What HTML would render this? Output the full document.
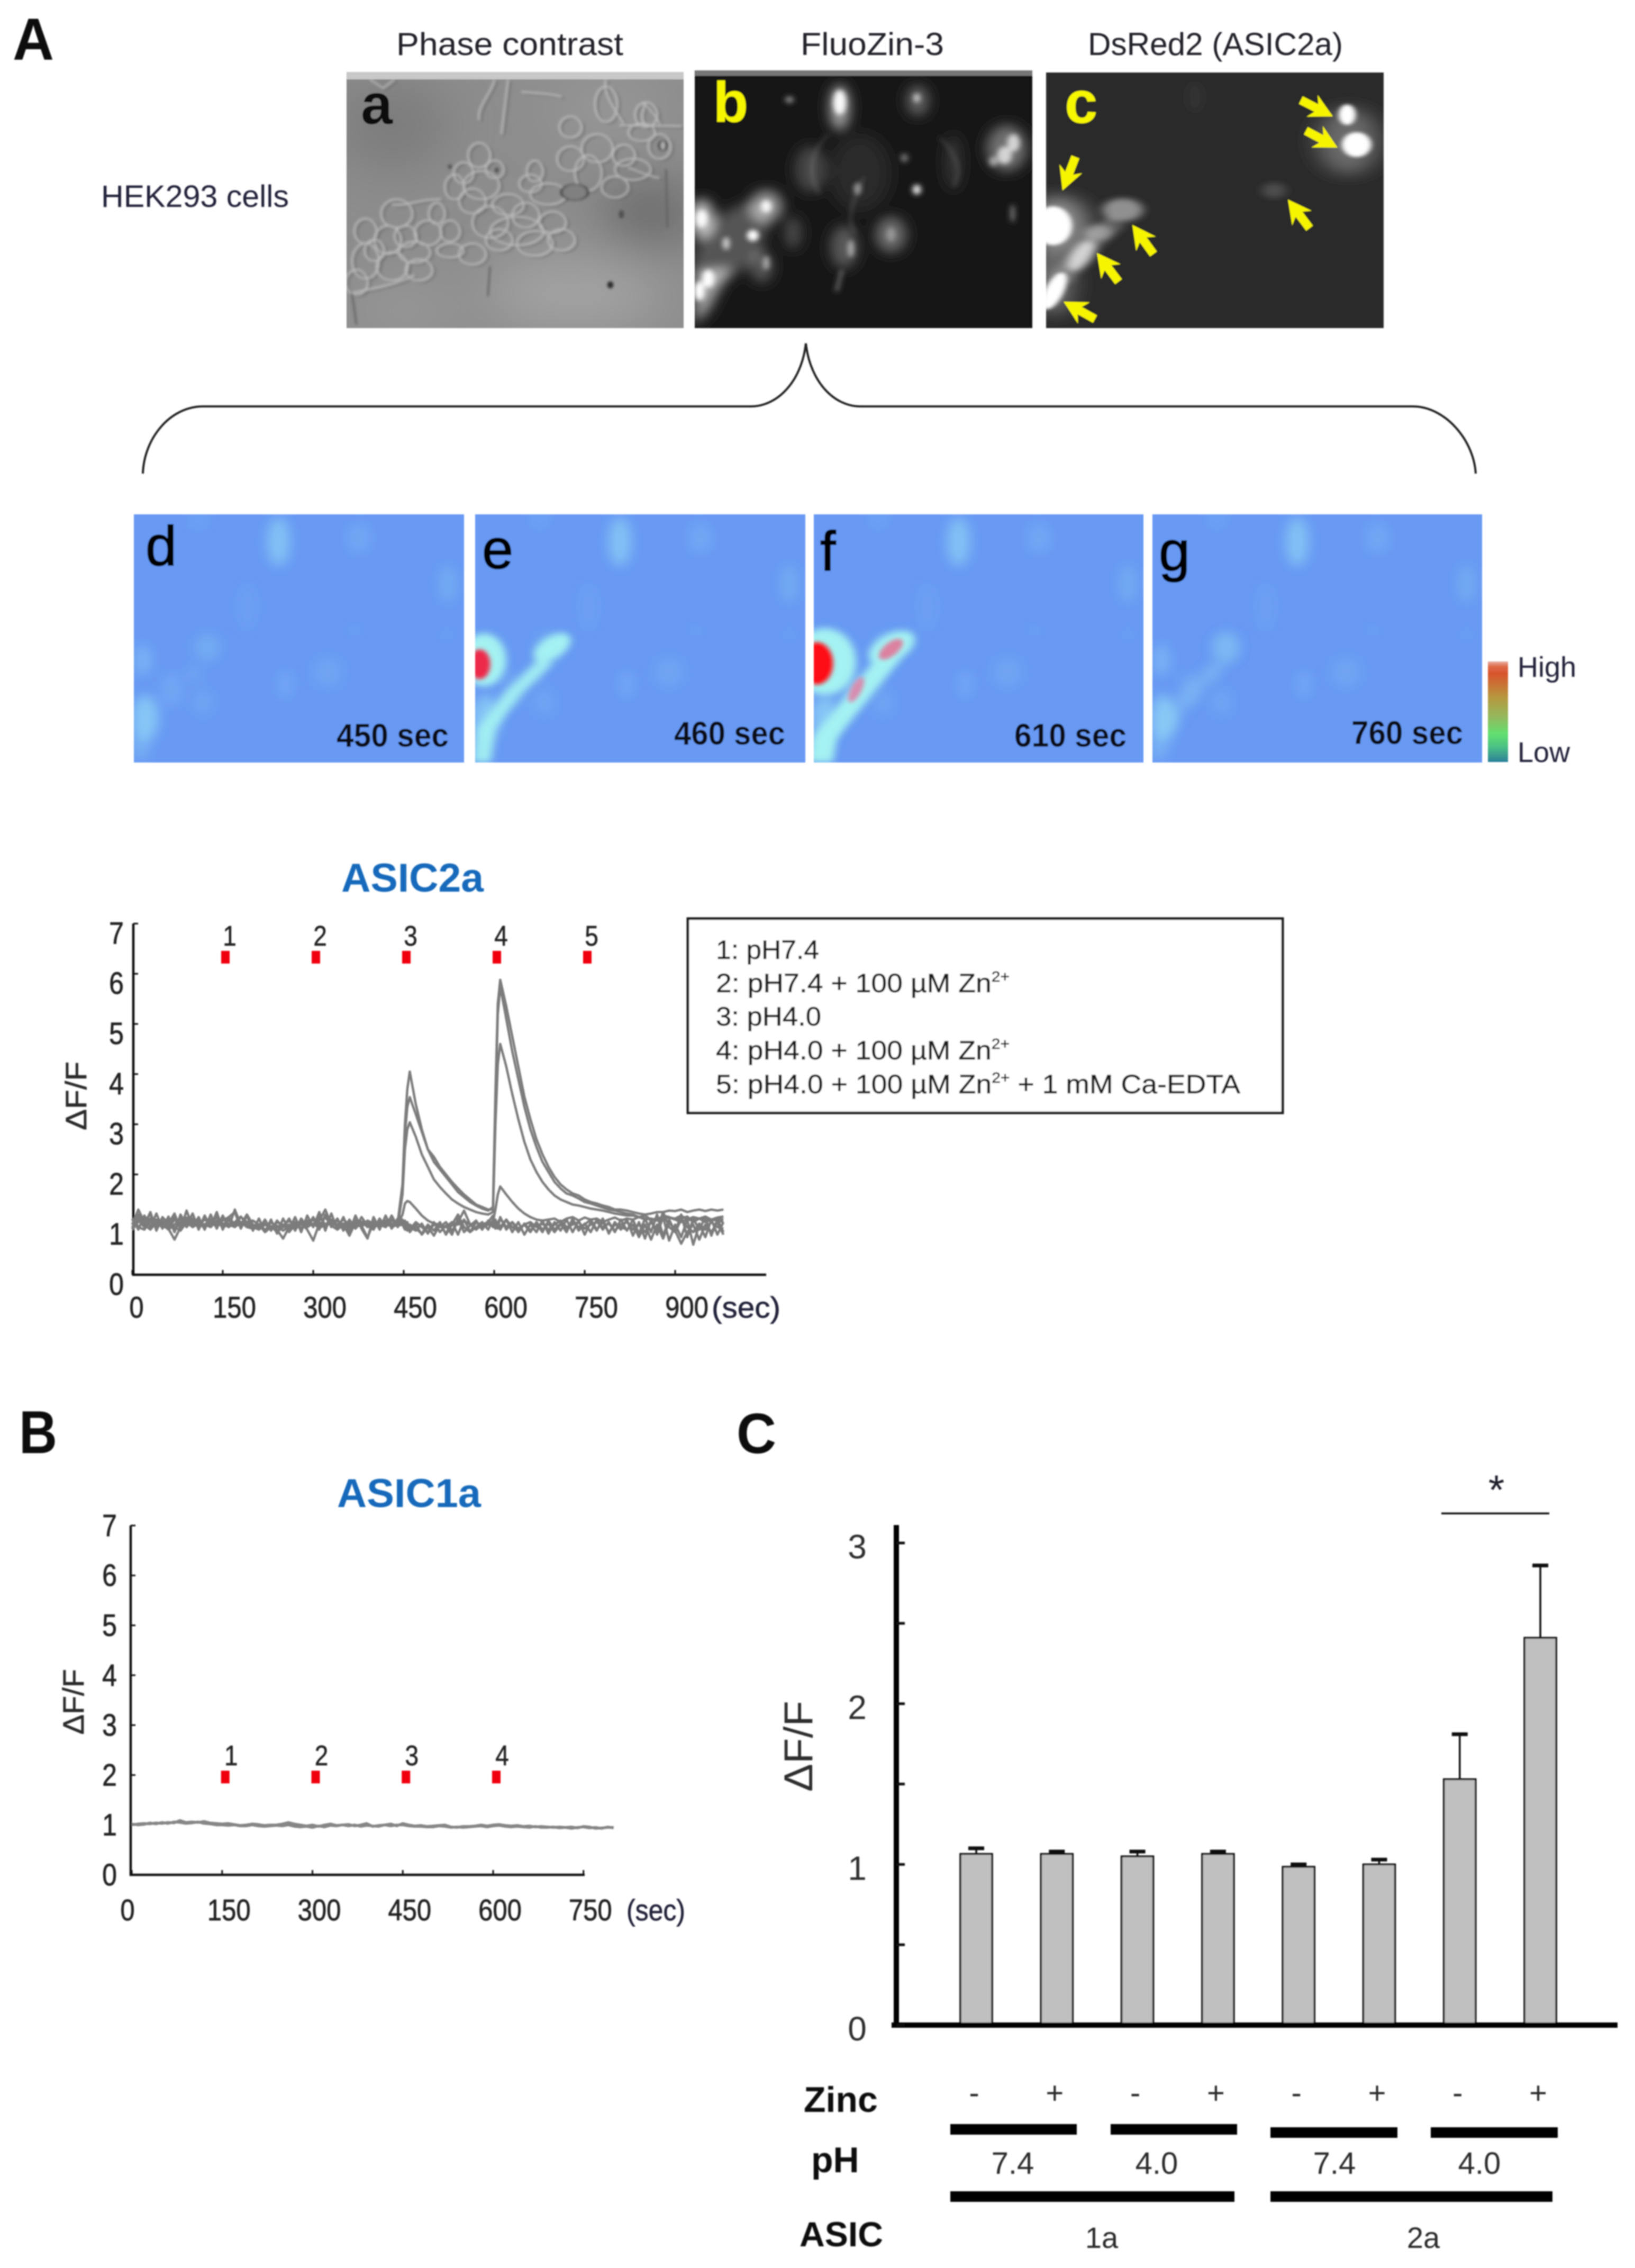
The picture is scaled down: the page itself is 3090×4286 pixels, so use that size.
<!DOCTYPE html>
<html lang="en">
<head>
<meta charset="utf-8">
<title>ASIC zinc imaging figure</title>
<style>
html,body{margin:0;padding:0;background:#fff;}
svg{display:block;}
text{font-family:"Liberation Sans",sans-serif;}
#cell-outlines *{vector-effect:non-scaling-stroke;}
</style>
</head>
<body>
<svg xmlns="http://www.w3.org/2000/svg" width="3090" height="4286" viewBox="0 0 3090 4286">
<defs>
  <clipPath id="clip-a"><rect x="655" y="136" width="637" height="484"/></clipPath>
  <clipPath id="clip-b"><rect x="1313" y="133" width="638" height="487"/></clipPath>
  <clipPath id="clip-c"><rect x="1977" y="137" width="638" height="483"/></clipPath>
  <clipPath id="clip-d"><rect x="253" y="972" width="624" height="469"/></clipPath>
  <clipPath id="clip-e"><rect x="898" y="972" width="624" height="469"/></clipPath>
  <clipPath id="clip-f"><rect x="1538" y="972" width="623" height="469"/></clipPath>
  <clipPath id="clip-g"><rect x="2178" y="972" width="623" height="469"/></clipPath>
  <filter id="soft" filterUnits="userSpaceOnUse" x="0" y="0" width="3090" height="4286"><feGaussianBlur stdDeviation="1.3"/></filter>
  <filter id="blur-a" filterUnits="userSpaceOnUse" x="-200" y="-200" width="1400" height="2200"><feGaussianBlur stdDeviation="3 7"/></filter>
  <filter id="blur-a-big" filterUnits="userSpaceOnUse" x="-400" y="-400" width="1800" height="2600"><feGaussianBlur stdDeviation="60 150"/></filter>
  <filter id="blur-b" filterUnits="userSpaceOnUse" x="-200" y="-200" width="2400" height="2200"><feGaussianBlur stdDeviation="14 32"/></filter>
  <filter id="blur-b-fine" filterUnits="userSpaceOnUse" x="-200" y="-200" width="2400" height="2200"><feGaussianBlur stdDeviation="6 13"/></filter>
  <filter id="blur-c" filterUnits="userSpaceOnUse" x="-200" y="-200" width="2000" height="2200"><feGaussianBlur stdDeviation="20 15"/></filter>
  <filter id="blur-c-fine" filterUnits="userSpaceOnUse" x="-200" y="-200" width="2000" height="2200"><feGaussianBlur stdDeviation="11 8"/></filter>
  <filter id="blur-c-big" filterUnits="userSpaceOnUse" x="-200" y="-200" width="2000" height="2200"><feGaussianBlur stdDeviation="50 40"/></filter>
  <filter id="blur-blue" filterUnits="userSpaceOnUse" x="-200" y="-200" width="1200" height="2000"><feGaussianBlur stdDeviation="14 32"/></filter>
  <filter id="blur-cyan" filterUnits="userSpaceOnUse" x="-200" y="-200" width="1200" height="2000"><feGaussianBlur stdDeviation="9 20"/></filter>
  <filter id="blur-red" filterUnits="userSpaceOnUse" x="-200" y="-200" width="1200" height="2000"><feGaussianBlur stdDeviation="5 11"/></filter>
  <linearGradient id="colorbar-gradient" x1="0" y1="0" x2="0" y2="1">
    <stop offset="0" stop-color="#e6b0a4"/><stop offset="0.05" stop-color="#e06a48"/><stop offset="0.12" stop-color="#d8532c"/>
    <stop offset="0.35" stop-color="#b8963e"/><stop offset="0.55" stop-color="#94b85c"/><stop offset="0.72" stop-color="#62e070"/>
    <stop offset="0.85" stop-color="#4ac084"/><stop offset="1" stop-color="#2a8098"/>
  </linearGradient>
  <g id="cell-outlines" fill="none">
    <ellipse cx="470" cy="740" rx="40" ry="60"/><ellipse cx="380" cy="800" rx="35" ry="60"/><ellipse cx="320" cy="690" rx="40" ry="80"/>
    <ellipse cx="315" cy="520" rx="25" ry="70"/><ellipse cx="350" cy="600" rx="20" ry="50"/><ellipse cx="440" cy="610" rx="18" ry="60"/>
    <ellipse cx="560" cy="620" rx="30" ry="100"/><ellipse cx="520" cy="360" rx="25" ry="60"/><ellipse cx="580" cy="480" rx="35" ry="80"/>
    <ellipse cx="600" cy="230" rx="25" ry="100"/><ellipse cx="690" cy="290" rx="25" ry="70"/>
    <ellipse cx="720" cy="470" rx="25" ry="70"/><ellipse cx="680" cy="390" rx="30" ry="50"/><ellipse cx="660" cy="600" rx="40" ry="60"/>
    <ellipse cx="200" cy="960" rx="30" ry="70"/><ellipse cx="130" cy="850" rx="35" ry="80"/><ellipse cx="220" cy="850" rx="18" ry="60"/>
    <ellipse cx="110" cy="1000" rx="30" ry="80"/><ellipse cx="120" cy="1150" rx="35" ry="80"/><ellipse cx="170" cy="1070" rx="35" ry="60"/>
    <ellipse cx="250" cy="1060" rx="30" ry="40"/><ellipse cx="60" cy="1120" rx="30" ry="100"/><ellipse cx="340" cy="900" rx="40" ry="90"/>
    <ellipse cx="400" cy="950" rx="60" ry="80"/><ellipse cx="440" cy="1020" rx="40" ry="70"/><ellipse cx="300" cy="1080" rx="30" ry="60"/>
    <ellipse cx="360" cy="1000" rx="30" ry="60"/><ellipse cx="40" cy="1240" rx="25" ry="70"/>
    <ellipse cx="80" cy="1060" rx="22" ry="60"/><ellipse cx="150" cy="980" rx="25" ry="60"/><ellipse cx="250" cy="950" rx="22" ry="60"/>
    <ellipse cx="300" cy="780" rx="30" ry="70"/><ellipse cx="420" cy="860" rx="30" ry="70"/><ellipse cx="480" cy="900" rx="30" ry="60"/>
    <ellipse cx="500" cy="1000" rx="30" ry="60"/><ellipse cx="260" cy="700" rx="22" ry="70"/><ellipse cx="280" cy="620" rx="22" ry="60"/>
    <ellipse cx="430" cy="680" rx="25" ry="50"/><ellipse cx="620" cy="700" rx="30" ry="60"/><ellipse cx="520" cy="540" rx="30" ry="70"/>
    <ellipse cx="640" cy="520" rx="25" ry="60"/><ellipse cx="60" cy="950" rx="25" ry="70"/><ellipse cx="180" cy="1170" rx="30" ry="60"/>
    <path d="M120,800 C160,810 170,770 230,770 M30,1300 C90,1270 130,1250 170,1200 M650,590 C680,620 700,640 720,650 M630,350 L770,355 M690,350 C670,300 690,250 685,225 C700,260 720,320 720,345"/>
    <path d="M350,90 C340,180 310,240 315,320 M380,90 C375,200 370,300 365,400 M410,160 C440,170 480,170 500,190 M600,90 C590,160 620,260 640,340 M70,90 L100,140 M125,90 L100,140"/>
  </g>
  <g id="blue-blobs" fill="#96dcf6" opacity="0.85">
    <ellipse cx="340" cy="190" rx="26" ry="140" opacity="0.7"/><ellipse cx="520" cy="170" rx="28" ry="90" opacity="0.25"/>
    <ellipse cx="720" cy="430" rx="20" ry="110" opacity="0.32"/><ellipse cx="35" cy="860" rx="20" ry="90" opacity="0.45"/>
    <ellipse cx="180" cy="790" rx="30" ry="80" opacity="0.32"/><ellipse cx="40" cy="1190" rx="30" ry="130" opacity="0.8"/>
    <ellipse cx="450" cy="930" rx="35" ry="90" opacity="0.2"/><ellipse cx="355" cy="1000" rx="18" ry="80" opacity="0.25"/>
    <ellipse cx="150" cy="940" rx="14" ry="50" opacity="0.28"/><ellipse cx="100" cy="1030" rx="25" ry="100" opacity="0.25"/>
    <ellipse cx="170" cy="1100" rx="25" ry="80" opacity="0.2"/><ellipse cx="270" cy="560" rx="25" ry="140" opacity="0.12"/>
    <ellipse cx="510" cy="690" rx="8" ry="24" opacity="0.3"/><ellipse cx="720" cy="715" rx="6" ry="18" opacity="0.5"/>
    <ellipse cx="160" cy="70" rx="25" ry="50" opacity="0.15"/><ellipse cx="30" cy="1340" rx="22" ry="90" opacity="0.4"/>
  </g>
  <polygon id="cell-arrow" fill="#f7f400" points="0,0 -44,-23 -35,-8 -68,-8 -68,8 -35,8 -44,23"/>
</defs>

<g id="figure-content" filter="url(#soft)">

<text x="24" y="113" font-size="112" font-weight="bold" fill="#0c0c0c" textLength="78" lengthAdjust="spacingAndGlyphs">A</text>
<text x="749" y="104" font-size="60" fill="#20202c" textLength="429" lengthAdjust="spacingAndGlyphs">Phase contrast</text>
<text x="1513" y="104" font-size="60" fill="#20202c" textLength="271" lengthAdjust="spacingAndGlyphs">FluoZin-3</text>
<text x="2056" y="104" font-size="60" fill="#20202c" textLength="482" lengthAdjust="spacingAndGlyphs">DsRed2 (ASIC2a)</text>
<text x="191" y="391" font-size="58" fill="#20203a" textLength="355" lengthAdjust="spacingAndGlyphs">HEK293 cells</text>

<!-- panel a -->
<g clip-path="url(#clip-a)">
  <rect x="655" y="136" width="637" height="484" fill="#8d8d8d"/>
  <g transform="translate(640,120) scale(0.8418,0.3333)">
    <g filter="url(#blur-a-big)">
      <ellipse cx="700" cy="850" rx="110" ry="180" fill="#5e5e5e" opacity="0.8"/>
      <ellipse cx="120" cy="350" rx="130" ry="260" fill="#7c7c7c"/>
      <ellipse cx="530" cy="1300" rx="200" ry="180" fill="#a6a6a6"/>
      <ellipse cx="150" cy="1400" rx="130" ry="100" fill="#9c9c9c"/>
      <ellipse cx="600" cy="250" rx="130" ry="200" fill="#969696"/>
    </g>
    <rect x="18" y="48" width="760" height="42" fill="#c8c8c8"/>
    <g filter="url(#blur-a)">
      <use href="#cell-outlines" stroke="#5c5c5c" stroke-width="2.5" transform="translate(7,10)" opacity="0.6"/>
      <use href="#cell-outlines" stroke="#cfcfcf" stroke-width="3" opacity="0.75"/>
      <ellipse cx="530" cy="730" rx="30" ry="45" fill="#808080" stroke="#4a4a4a" stroke-width="6"/>
      <ellipse cx="728" cy="465" rx="8" ry="28" fill="#b0b0b0" stroke="#333" stroke-width="5"/>
      <ellipse cx="610" cy="1255" rx="7" ry="20" fill="#2a2a2a"/>
      <ellipse cx="250" cy="585" rx="5" ry="14" fill="#555"/><ellipse cx="355" cy="605" rx="5" ry="16" fill="#555"/>
      <ellipse cx="635" cy="855" rx="6" ry="24" fill="#505050"/>
      <path d="M340,1150 L335,1320 M735,600 L738,930 M30,1300 L40,1480" stroke="#606060" stroke-width="4" fill="none"/>
    </g>
  </g>
</g>
<text x="682" y="234" font-size="108" font-weight="bold" fill="#080810">a</text>

<!-- panel b -->
<g clip-path="url(#clip-b)">
  <rect x="1313" y="133" width="638" height="487" fill="#191919"/>
  <g transform="translate(640,120) scale(0.8418,0.3333)">
    <rect x="800" y="38" width="760" height="32" fill="#767676"/>
    <g filter="url(#blur-b)" fill="#fff">
      <ellipse cx="880" cy="1020" rx="70" ry="230" fill="#555" transform="rotate(12 880 1020)"/>
      <ellipse cx="1060" cy="600" rx="35" ry="130" opacity="0.2"/>
      <ellipse cx="1125" cy="250" rx="22" ry="130" opacity="0.6"/>
      <ellipse cx="1300" cy="210" rx="24" ry="85" opacity="0.32"/>
      <ellipse cx="1500" cy="480" rx="45" ry="130" opacity="0.38"/>
      <ellipse cx="1240" cy="970" rx="34" ry="100" opacity="0.36"/>
      <ellipse cx="1135" cy="1040" rx="30" ry="120" opacity="0.28"/>
      <ellipse cx="950" cy="1150" rx="24" ry="90" opacity="0.28"/>
      <ellipse cx="960" cy="810" rx="36" ry="90" opacity="0.55"/>
      <ellipse cx="815" cy="880" rx="28" ry="110" opacity="0.7"/>
      <ellipse cx="1020" cy="960" rx="18" ry="90" opacity="0.22"/>
      <ellipse cx="1380" cy="560" rx="18" ry="150" opacity="0.12"/>
      <ellipse cx="1170" cy="620" rx="70" ry="220" opacity="0.07"/>
      <path d="M800,1180 L880,1160 L830,1400 L800,1480 Z" opacity="0.6"/>
    </g>
    <g filter="url(#blur-b-fine)" fill="#fff">
      <ellipse cx="1125" cy="220" rx="14" ry="70" opacity="0.95"/>
      <ellipse cx="1298" cy="195" rx="7" ry="26" opacity="0.7"/>
      <ellipse cx="1012" cy="205" rx="9" ry="18" opacity="0.5"/>
      <ellipse cx="1515" cy="450" rx="14" ry="50" opacity="0.7"/>
      <ellipse cx="1495" cy="520" rx="16" ry="50" opacity="0.7"/>
      <ellipse cx="1470" cy="555" rx="10" ry="28" opacity="0.5"/>
      <ellipse cx="1270" cy="535" rx="8" ry="24" opacity="0.4"/>
      <ellipse cx="1165" cy="710" rx="8" ry="36" opacity="0.5"/>
      <ellipse cx="1298" cy="715" rx="9" ry="28" opacity="0.9"/>
      <ellipse cx="960" cy="810" rx="12" ry="36" opacity="0.9"/>
      <ellipse cx="815" cy="880" rx="13" ry="50" opacity="0.95"/>
      <ellipse cx="930" cy="975" rx="13" ry="32"/>
      <ellipse cx="870" cy="1020" rx="8" ry="36" opacity="0.7"/>
      <ellipse cx="830" cy="1220" rx="13" ry="50"/>
      <ellipse cx="810" cy="1290" rx="12" ry="55"/>
      <ellipse cx="1150" cy="1050" rx="7" ry="50" opacity="0.55"/>
      <ellipse cx="960" cy="1130" rx="7" ry="40" opacity="0.55"/>
      <ellipse cx="1240" cy="970" rx="10" ry="40" opacity="0.3"/>
      <path d="M1130,1170 L1118,1290" stroke="#999" stroke-width="5" fill="none"/>
      <ellipse cx="1513" cy="850" rx="4" ry="50" opacity="0.5"/>
      <path d="M1100,400 C1060,500 1050,620 1080,740 M1350,420 C1390,520 1400,620 1380,700 M1180,640 C1150,800 1140,880 1160,960" stroke="#fff" stroke-width="7" fill="none" opacity="0.16"/>
    </g>
  </g>
</g>
<text x="1348" y="230" font-size="108" font-weight="bold" fill="#f6f600">b</text>

<!-- panel c -->
<g clip-path="url(#clip-c)">
  <rect x="1977" y="137" width="638" height="483" fill="#2b2b2b"/>
  <g transform="translate(1950,120) scale(0.4464,0.3333)">
    <g filter="url(#blur-c-big)" fill="#fff">
      <ellipse cx="1340" cy="440" rx="130" ry="190" opacity="0.3"/>
      <ellipse cx="110" cy="920" rx="130" ry="170" opacity="0.45"/>
      <ellipse cx="90" cy="1250" rx="80" ry="180" opacity="0.35"/>
    </g>
    <g filter="url(#blur-c)" fill="#fff">
      <ellipse cx="385" cy="830" rx="85" ry="65" opacity="0.48"/>
      <path d="M360,890 L230,1040 L120,1230" stroke="#fff" stroke-width="90" fill="none" opacity="0.25"/>
      <ellipse cx="280" cy="960" rx="60" ry="45" opacity="0.35"/>
      <ellipse cx="210" cy="1090" rx="45" ry="95" opacity="0.7" transform="rotate(28 210 1090)"/>
      <ellipse cx="1025" cy="720" rx="50" ry="44" opacity="0.16"/>
      <ellipse cx="690" cy="190" rx="40" ry="90" opacity="0.03"/>
    </g>
    <g filter="url(#blur-c-fine)" fill="#fff">
      <ellipse cx="1335" cy="290" rx="36" ry="58"/>
      <ellipse cx="1375" cy="460" rx="62" ry="70"/>
      <ellipse cx="90" cy="920" rx="80" ry="110"/>
      <ellipse cx="95" cy="1290" rx="40" ry="110" transform="rotate(20 95 1290)"/>
    </g>
  </g>
  <use href="#cell-arrow" transform="translate(2519,220) rotate(27)"/>
  <use href="#cell-arrow" transform="translate(2528,279) rotate(28)"/>
  <use href="#cell-arrow" transform="translate(2008,360) rotate(111)"/>
  <use href="#cell-arrow" transform="translate(2140,425) rotate(-126)"/>
  <use href="#cell-arrow" transform="translate(2073,478) rotate(-127)"/>
  <use href="#cell-arrow" transform="translate(2010,570) rotate(-151)"/>
  <use href="#cell-arrow" transform="translate(2434,377) rotate(-127)"/>
</g>
<text x="2012" y="232" font-size="112" font-weight="bold" fill="#f6f600">c</text>

<path d="M270,895 C272,830 320,768 384,768 L1419,768 C1470,768 1515,720 1523,649 C1531,720 1575,768 1626,768 L2670,768 C2730,768 2785,830 2789,895" fill="none" stroke="#222" stroke-width="4"/>

<!-- panel d -->
<g clip-path="url(#clip-d)">
  <rect x="253" y="972" width="624" height="469" fill="#6899f3"/>
  <g transform="translate(240.4,960.3) scale(0.8418,0.3333)"><use href="#blue-blobs" filter="url(#blur-blue)"/></g>
</g>
<!-- panel e -->
<g clip-path="url(#clip-e)">
  <rect x="898" y="972" width="624" height="469" fill="#6899f3"/>
  <g transform="translate(885.4,960.3) scale(0.8418,0.3333)">
    <use href="#blue-blobs" filter="url(#blur-blue)"/>
    <g filter="url(#blur-cyan)" fill="#a4f2f2">
      <ellipse cx="35" cy="860" rx="50" ry="150"/>
      <ellipse cx="188" cy="790" rx="34" ry="85" transform="rotate(18 188 790)"/>
      <path d="M173,870 L100,1050 L40,1250 L30,1440" fill="none" stroke="#a4f2f2" stroke-width="40" opacity="0.9"/>
    </g>
    <g filter="url(#blur-red)"><ellipse cx="25" cy="885" rx="24" ry="85" fill="#ee2a4c"/></g>
  </g>
</g>
<!-- panel f -->
<g clip-path="url(#clip-f)">
  <rect x="1538" y="972" width="623" height="469" fill="#6899f3"/>
  <g transform="translate(1525.4,960.3) scale(0.8418,0.3333)">
    <use href="#blue-blobs" filter="url(#blur-blue)"/>
    <g filter="url(#blur-cyan)" fill="#a4f2f2">
      <ellipse cx="40" cy="870" rx="70" ry="190"/>
      <ellipse cx="190" cy="790" rx="44" ry="100" transform="rotate(18 190 790)"/>
      <path d="M190,830 L110,1080 L40,1300 L30,1440" fill="none" stroke="#a4f2f2" stroke-width="54"/>
    </g>
    <g filter="url(#blur-red)">
      <ellipse cx="188" cy="800" rx="20" ry="62" fill="#dc82a0" transform="rotate(18 188 800)"/>
      <ellipse cx="110" cy="1030" rx="13" ry="72" fill="#d88cae" transform="rotate(10 110 1030)"/>
      <ellipse cx="22" cy="880" rx="36" ry="120" fill="#ff0814"/>
    </g>
  </g>
</g>
<!-- panel g -->
<g clip-path="url(#clip-g)">
  <rect x="2178" y="972" width="623" height="469" fill="#6899f3"/>
  <g transform="translate(2165.4,960.3) scale(0.8418,0.3333)">
    <use href="#blue-blobs" filter="url(#blur-blue)"/>
    <g filter="url(#blur-blue)" fill="#96dcf6">
      <ellipse cx="180" cy="790" rx="28" ry="90" opacity="0.3"/>
      <path d="M170,870 L100,1050 L40,1250" fill="none" stroke="#96dcf6" stroke-width="34" opacity="0.28"/>
    </g>
  </g>
</g>
<text x="275" y="1068" font-size="106" fill="#060606" stroke="#060606" stroke-width="2">d</text>
<text x="911" y="1074" font-size="106" fill="#060606" stroke="#060606" stroke-width="2">e</text>
<text x="1550" y="1078" font-size="106" fill="#060606" stroke="#060606" stroke-width="2">f</text>
<text x="2190" y="1078" font-size="106" fill="#060606" stroke="#060606" stroke-width="2">g</text>
<text x="636" y="1411" font-size="62" font-weight="bold" fill="#0a0a18" textLength="212" lengthAdjust="spacingAndGlyphs">450 sec</text>
<text x="1274" y="1407" font-size="62" font-weight="bold" fill="#0a0a18" textLength="210" lengthAdjust="spacingAndGlyphs">460 sec</text>
<text x="1917" y="1411" font-size="62" font-weight="bold" fill="#0a0a18" textLength="212" lengthAdjust="spacingAndGlyphs">610 sec</text>
<text x="2554" y="1406" font-size="62" font-weight="bold" fill="#0a0a18" textLength="211" lengthAdjust="spacingAndGlyphs">760 sec</text>
<rect x="2812" y="1250" width="38" height="190" fill="url(#colorbar-gradient)"/>
<text x="2868" y="1279" font-size="54" fill="#20203a">High</text>
<text x="2868" y="1440" font-size="54" fill="#20203a">Low</text>

<!-- legend A -->
<g>
  <rect x="1300" y="1736" width="1124" height="367" fill="#fff" stroke="#1a1a1a" stroke-width="5"/>
  <g font-size="50" fill="#1c1c1c" stroke="#1c1c1c" stroke-width="0.7">
    <text x="1353" y="1812" textLength="195" lengthAdjust="spacingAndGlyphs">1: pH7.4</text>
    <text x="1353" y="1875" textLength="555" lengthAdjust="spacingAndGlyphs">2: pH7.4 + 100 µM Zn<tspan dy="-20" font-size="28">2+</tspan></text>
    <text x="1353" y="1938" textLength="199" lengthAdjust="spacingAndGlyphs">3: pH4.0</text>
    <text x="1353" y="2002" textLength="555" lengthAdjust="spacingAndGlyphs">4: pH4.0 + 100 µM Zn<tspan dy="-20" font-size="28">2+</tspan></text>
    <text x="1353" y="2066" textLength="991" lengthAdjust="spacingAndGlyphs">5: pH4.0 + 100 µM Zn<tspan dy="-20" font-size="28">2+</tspan><tspan dy="20"> + 1 mM Ca-EDTA</tspan></text>
  </g>
</g>

<g id="chart-asic2a"></g>
<g id="chart-asic1a"></g>
<g id="chart-bars"></g>

<text x="36" y="2746" font-size="114" font-weight="bold" fill="#0a0a0a" textLength="72" lengthAdjust="spacingAndGlyphs">B</text>
<text x="1392" y="2746" font-size="108" font-weight="bold" fill="#0a0a0a" textLength="75" lengthAdjust="spacingAndGlyphs">C</text>
</g>
</svg>

<script>
/* ---------- ASIC2a traces (panel A) ---------- */
const a2Times = [0,10,20,30,40,50,60,70,80,90,100,110,120,130,140,150,160,170,180,190,200,210,220,230,240,250,260,270,280,290,300,310,320,330,340,350,360,370,380,390,400,410,420,430,440,448,452,456,460,470,480,490,500,510,520,530,540,550,560,570,580,590,598,602,606,610,620,630,640,650,660,670,680,690,700,710,720,730,740,750,760,770,780,790,800,810,820,830,840,850,860,870,880,890,900,910,920,930,940,950,960,970,980];
const a2Trace1 = [1.0,1.3,1.05,1.12,1.0,1.08,0.95,1.15,1.02,1.1,1.05,0.98,1.1,1.02,1.15,1.0,1.08,1.02,1.15,1.05,1.0,0.95,1.02,0.96,0.95,1.0,0.92,1.05,1.0,1.08,0.98,1.16,1.0,1.05,0.98,1.02,0.95,1.08,1.0,1.05,1.02,0.95,1.08,1.0,1.05,1.8,3.0,3.7,4.05,3.4,2.9,2.5,2.25,2.1,1.95,1.8,1.65,1.55,1.45,1.38,1.32,1.28,1.35,3.6,5.4,5.88,5.35,4.75,4.15,3.55,3.1,2.7,2.4,2.15,1.95,1.8,1.7,1.62,1.58,1.5,1.45,1.42,1.38,1.35,1.3,1.3,1.28,1.25,1.22,1.2,1.22,1.25,1.25,1.28,1.27,1.3,1.25,1.28,1.3,1.27,1.3,1.28,1.3];
const a2Trace2 = [0.9,1.06,1.15,0.95,1.08,0.93,1.02,0.9,1.05,1.14,0.98,1.05,1.0,0.95,1.08,1.02,0.95,1.05,1.16,1.0,0.95,0.9,1.0,0.93,0.98,0.88,0.96,1.02,0.93,1.05,0.98,1.08,1.3,1.0,1.08,0.95,1.02,0.97,1.06,0.95,1.05,1.0,0.95,1.08,1.02,1.7,2.8,3.35,3.54,3.2,2.85,2.5,2.35,2.15,2.0,1.85,1.72,1.6,1.5,1.4,1.35,1.3,1.3,3.4,5.2,5.75,5.1,4.45,3.9,3.35,2.9,2.55,2.25,2.05,1.85,1.72,1.62,1.58,1.52,1.45,1.42,1.38,1.34,1.3,1.28,1.25,1.22,1.2,1.15,1.18,1.1,1.12,1.15,1.14,1.12,1.18,1.1,1.15,1.12,1.16,1.1,1.14,1.16];
const a2Trace3 = [1.05,0.95,0.9,1.08,0.98,1.05,0.92,0.7,0.95,1.05,1.0,1.1,0.97,1.06,0.95,1.08,1.15,1.0,1.05,0.95,0.92,1.0,0.85,0.95,0.9,0.72,0.95,1.0,1.02,0.9,0.68,1.02,0.95,1.06,1.0,0.95,1.05,0.92,1.06,1.0,0.92,1.05,0.97,1.02,0.97,1.6,2.5,2.9,3.04,2.75,2.4,2.15,1.9,1.75,1.62,1.5,1.42,1.35,1.3,1.25,1.22,1.2,1.25,3.0,4.2,4.6,4.15,3.6,3.1,2.65,2.3,2.05,1.85,1.7,1.58,1.5,1.45,1.4,1.38,1.35,1.32,1.3,1.28,1.25,1.22,1.2,1.18,1.18,1.15,1.12,1.1,1.08,1.12,1.14,1.1,1.05,1.1,1.08,1.12,1.05,1.1,1.08,1.05];
const a2Trace4 = [0.95,1.15,1.0,0.9,1.05,0.97,1.1,0.95,0.88,1.05,0.95,1.02,1.0,0.97,1.05,0.95,1.0,0.97,1.05,1.0,0.95,1.0,0.9,0.97,0.85,0.95,1.0,0.9,1.05,0.95,1.02,0.93,1.0,1.1,0.93,1.0,1.06,0.95,1.0,1.05,0.97,1.0,1.05,0.95,1.0,1.2,1.42,1.47,1.45,1.32,1.18,1.08,1.02,1.0,0.95,1.05,1.0,1.08,1.0,1.04,0.98,1.05,1.05,1.3,1.6,1.76,1.6,1.45,1.32,1.22,1.15,1.1,1.08,1.1,1.12,1.05,1.12,1.15,1.08,1.14,1.1,1.12,1.05,1.1,1.14,1.08,1.12,1.1,1.15,1.1,1.12,1.08,1.18,1.15,1.1,1.12,1.16,1.05,1.12,1.14,1.08,1.12,1.1];
const a2Trace5 = [1.1,0.95,1.08,1.2,0.95,1.05,0.92,1.1,0.98,1.02,1.12,0.95,1.0,1.1,0.98,1.12,1.0,0.95,1.05,1.0,0.92,1.0,0.88,1.05,0.95,1.0,0.85,1.0,1.08,1.0,1.1,0.95,1.15,0.98,0.9,1.0,0.78,1.05,0.98,0.74,1.05,0.95,1.02,0.96,1.0,1.05,0.95,0.88,1.0,0.92,0.82,1.0,0.88,1.05,0.8,1.0,1.2,0.95,0.85,1.05,0.95,1.0,1.0,0.92,1.05,0.95,1.1,0.95,0.88,1.0,0.85,1.05,0.9,1.02,0.85,1.0,0.92,1.05,0.95,1.0,1.1,0.9,1.05,0.85,1.0,0.95,0.9,1.0,0.75,1.0,0.7,1.0,0.72,1.05,0.88,0.62,0.85,1.0,0.7,1.0,0.85,1.05,0.8];
const a2Trace6 = [1.02,1.08,0.95,1.05,1.1,1.0,0.9,1.0,1.12,0.95,1.08,1.0,0.95,1.05,1.02,0.98,1.08,1.0,0.98,1.05,1.08,1.0,1.02,0.92,1.05,0.98,1.08,0.95,1.0,1.05,0.98,1.05,0.95,1.08,1.0,1.1,1.0,1.05,0.95,1.08,1.02,1.0,1.05,1.1,0.98,1.0,1.08,0.95,0.9,1.05,0.95,0.85,1.0,0.95,1.05,0.88,1.05,1.28,1.0,0.9,1.0,1.05,1.18,1.0,1.05,1.12,0.95,1.05,0.92,1.0,1.05,0.95,1.02,0.9,1.0,1.08,0.95,1.0,1.05,0.92,1.0,1.05,0.95,1.02,0.88,1.0,1.05,0.9,1.0,0.85,1.05,0.9,1.25,0.95,0.85,1.1,0.95,0.85,1.02,0.9,1.05,0.95,0.92];
const a2Trace7 = [1.12,0.9,1.18,0.95,1.22,0.92,1.16,0.85,1.2,0.98,1.22,0.9,1.18,0.95,1.25,0.9,1.15,1.25,0.92,1.18,0.88,1.12,0.85,1.1,0.82,1.12,0.9,1.15,0.85,1.18,0.95,1.25,0.88,1.22,0.9,1.15,0.85,1.18,0.92,0.72,1.15,0.9,1.18,0.92,1.12,1.0,0.9,1.05,0.85,1.0,0.8,0.95,0.78,1.0,0.82,1.05,0.8,1.1,0.85,0.95,1.05,0.9,1.1,0.95,1.05,0.9,1.1,0.85,1.05,0.8,1.0,0.85,1.08,0.82,1.05,0.88,1.1,0.85,1.08,0.8,1.05,0.88,1.12,0.82,1.05,0.9,1.1,0.78,1.05,0.72,1.1,0.8,1.15,0.68,1.0,0.75,1.1,0.6,1.0,0.75,1.1,0.8,1.05];
const a2Trace8 = [0.92,1.2,0.98,1.25,0.88,1.15,1.02,1.22,0.9,1.28,0.95,1.15,0.9,1.2,0.92,1.18,0.95,1.3,1.0,1.2,1.0,0.9,1.1,0.88,1.08,0.95,1.12,0.88,1.12,0.95,1.15,0.9,1.2,0.95,1.12,0.88,1.1,0.92,1.15,0.98,0.9,1.12,0.95,1.18,0.95,1.1,0.92,1.0,0.95,0.88,1.02,0.82,1.05,0.85,0.98,0.8,1.12,0.85,0.98,1.08,0.9,1.08,0.95,1.1,0.92,1.15,0.9,1.05,0.85,1.02,0.88,1.02,0.85,1.08,0.9,1.02,0.85,1.12,0.88,1.02,0.85,1.1,0.9,1.05,0.85,1.1,0.88,1.1,0.82,1.12,0.85,1.2,0.78,1.1,0.85,1.2,0.75,1.12,0.9,1.15,0.78,1.1,0.85];
const a2Traces = [a2Trace1, a2Trace2, a2Trace3, a2Trace4, a2Trace5, a2Trace6, a2Trace7, a2Trace8];
const a2YTicks = [0,1,2,3,4,5,6,7];
const a2XTicks = [0,150,300,450,600,750,900];
const a2Stimuli = [150,300,450,600,750];
const a2StimulusLabels = ["1","2","3","4","5"];

/* ---------- ASIC1a traces (panel B) ---------- */
const b1Times = [0,10,20,30,40,50,60,70,80,90,100,110,120,130,140,150,160,170,180,190,200,210,220,230,240,250,260,270,280,290,300,310,320,330,340,350,360,370,380,390,400,410,420,430,440,450,460,470,480,490,500,510,520,530,540,550,560,570,580,590,600,610,620,630,640,650,660,670,680,690,700,710,720,730,740,750,760,770,780,790,800];
const b1Trace1 = [1.0,1.02,1.03,1.02,1.04,1.03,1.05,1.04,1.09,1.05,1.06,1.05,1.07,1.04,1.03,1.02,1.03,1.01,0.99,1.0,1.02,1.01,0.99,1.0,1.0,1.02,1.05,1.02,1.0,0.98,1.0,0.97,1.0,1.02,0.99,1.0,1.01,0.98,1.0,1.03,0.97,0.99,1.0,1.02,0.98,1.03,1.0,0.98,0.99,0.97,0.98,0.99,1.0,0.96,0.95,0.97,0.97,0.98,1.0,0.98,1.0,1.01,0.99,0.98,0.99,0.97,0.98,0.96,0.97,0.96,0.95,0.96,0.95,0.96,0.94,0.97,0.96,0.93,0.94,0.95,0.95];
const b1Trace2 = [1.02,1.0,1.01,1.04,1.02,1.05,1.03,1.06,1.05,1.03,1.04,1.06,1.03,1.02,1.0,1.0,0.99,1.0,0.98,0.98,1.0,0.98,0.97,0.98,0.99,0.98,1.0,0.97,0.96,0.97,0.95,0.98,0.96,0.99,0.98,1.0,0.98,1.0,0.97,0.99,0.98,0.97,1.0,0.98,1.0,1.0,0.98,0.97,0.97,0.96,0.96,0.98,0.97,0.95,0.96,0.95,0.96,0.97,0.98,0.96,0.98,0.99,0.97,0.96,0.97,0.96,0.95,0.97,0.95,0.95,0.96,0.94,0.95,0.93,0.95,0.96,0.94,0.95,0.93,0.96,0.94];
const b1Traces = [b1Trace1, b1Trace2];
const b1YTicks = [0,1,2,3,4,5,6,7];
const b1XTicks = [0,150,300,450,600,750];
const b1Stimuli = [150,300,450,600];
const b1StimulusLabels = ["1","2","3","4"];

/* ---------- Bar chart (panel C) ---------- */
const barMeans = [1.065,1.065,1.05,1.065,0.985,1.0,1.53,2.41];
const barErrors = [1.10,1.08,1.08,1.08,1.0,1.03,1.81,2.86];
const barYTicks = [0,0.5,1,1.5,2,2.5,3];
const barYLabels = ["0","","1","","2","","3"];
const zincLabels = ["-","+","-","+","-","+","-","+"];

const SVG_NS = 'http://www.w3.org/2000/svg';
function mk(parent, tag, attrs, txt){
  const el = document.createElementNS(SVG_NS, tag);
  for (const k in attrs) el.setAttribute(k, attrs[k]);
  if (txt !== undefined) el.textContent = txt;
  parent.appendChild(el);
  return el;
}
function drawTraceChart(root, cfg){
  const x = t => cfg.x0 + cfg.xk * t;
  const y = v => cfg.y0 - cfg.yk * v;
  const ax = mk(root, 'path', {d:'M'+cfg.axisX+','+y(7)+' L'+cfg.axisX+','+cfg.y0+' L'+cfg.axisEnd+','+cfg.y0, fill:'none', stroke:'#111', 'stroke-width':4.5});
  
  
  cfg.yTicks.forEach(v => {
    const t = mk(root, 'line', {x1:cfg.axisX, x2:cfg.axisX+9, y1:y(v), y2:y(v), stroke:'#111', 'stroke-width':3});
    
    
    const l = mk(root, 'text', {transform:'translate('+cfg.yLabelX+','+(y(v)+cfg.yLabelDy)+') scale(1,1.16)', 'font-size':50, 'text-anchor':'middle', fill:'#222', stroke:'#222', 'stroke-width':0.7}, String(v));
    
    
  });
  cfg.xTicks.forEach(v => {
    const t = mk(root, 'line', {x1:x(v), x2:x(v), y1:cfg.y0-9, y2:cfg.y0, stroke:'#111', 'stroke-width':3});
    
    
    const l = mk(root, 'text', {transform:'translate('+(x(v)+(v===0?cfg.zeroDx:cfg.xLabelDx))+','+cfg.xLabelY+') scale(1,1.16)', 'font-size':49, 'text-anchor':'middle', fill:'#222', stroke:'#222', 'stroke-width':0.7}, String(v));
    
    
  });
  const unit = mk(root, 'text', {transform:'translate('+cfg.secX+','+cfg.xLabelY+') scale(1,1.12)', 'font-size':50, fill:'#24243a', stroke:'#24243a', 'stroke-width':0.6, textLength:cfg.secW, lengthAdjust:'spacingAndGlyphs'}, '(sec)');
  
  
  const yt = mk(root, 'text', {transform:'translate('+(cfg.yTitleX+20)+','+cfg.yTitleY+') rotate(-90)', 'font-size':56, 'text-anchor':'middle', fill:'#2a2a2a', stroke:'#2a2a2a', 'stroke-width':0.7, textLength:cfg.yTitleW, lengthAdjust:'spacingAndGlyphs'}, '\u0394F/F');
  
  
  const title = mk(root, 'text', {x:cfg.titleX, y:cfg.titleY, 'font-size':76, 'font-weight':'bold', fill:'#1569bb', textLength:cfg.titleW, lengthAdjust:'spacingAndGlyphs'}, cfg.title);
  
  
  cfg.traces.forEach(series => {
    const d = series.slice(0, cfg.times.length).map((v,i) => (i?'L':'M') + x(cfg.times[i]).toFixed(1) + ',' + y(v).toFixed(1)).join(' ');
    const p = mk(root, 'path', {d:d, fill:'none', stroke:cfg.traceColor, 'stroke-width':cfg.traceWidth, 'stroke-linejoin':'round'});
    
    
  });
  cfg.stimuli.forEach((t,i) => {
    const r = mk(root, 'rect', {x:x(t)+cfg.stimDx-8, y:y(cfg.stimValue)-12, width:16, height:24, fill:'#f00010'});
    
    
    const l = mk(root, 'text', {transform:'translate('+(x(t)+cfg.stimLabelDx)+','+(y(cfg.stimValue)-22)+') scale(1,1.16)', 'font-size':46, 'text-anchor':'middle', fill:'#222', stroke:'#222', 'stroke-width':0.5}, cfg.stimLabels[i]);
    
    
  });
}
drawTraceChart(document.getElementById('chart-asic2a'), {
  x0:250, xk:1.14, y0:2409, yk:94.8, axisX:252, axisEnd:1448,
  yTicks:a2YTicks, xTicks:a2XTicks, yLabelX:220, yLabelDy:38, xLabelY:2490, xLabelDx:22, zeroDx:8,
  secX:1345, secW:130, yTitleX:143, yTitleY:2071, yTitleW:130, title:'ASIC2a', titleX:645, titleY:1685, titleW:269,
  times:a2Times, traces:a2Traces, traceColor:'#7c7c7c', traceWidth:4.5,
  stimuli:a2Stimuli, stimLabels:a2StimulusLabels, stimValue:6.33, stimDx:5, stimLabelDx:13
});
drawTraceChart(document.getElementById('chart-asic1a'), {
  x0:249, xk:1.1383, y0:3543, yk:94.3, axisX:247, axisEnd:1105,
  yTicks:b1YTicks, xTicks:b1XTicks, yLabelX:207, yLabelDy:20, xLabelY:3629, xLabelDx:13, zeroDx:-8,
  secX:1184, secW:111, yTitleX:138, yTitleY:3216, yTitleW:124, title:'ASIC1a', titleX:637, titleY:2848, titleW:272,
  times:b1Times, traces:b1Traces, traceColor:'#868686', traceWidth:5,
  stimuli:b1Stimuli, stimLabels:b1StimulusLabels, stimValue:1.96, stimDx:6, stimLabelDx:17
});

(function drawBars(){
  const root = document.getElementById('chart-bars');
  const y0 = 3827, yk = 303.7, slotStart = 1845, slot = 152.3, barW = 60;
  const x = i => slotStart + i * slot;
  const y = v => y0 - yk * v;
  barMeans.forEach((m,i) => {
    const e = mk(root, 'line', {x1:x(i), x2:x(i), y1:y(barErrors[i]), y2:y(m), stroke:'#111', 'stroke-width':3.5});
    
    
    const c = mk(root, 'line', {x1:x(i)-15, x2:x(i)+15, y1:y(barErrors[i]), y2:y(barErrors[i]), stroke:'#111', 'stroke-width':7});
    
    
    const r = mk(root, 'rect', {x:x(i)-barW/2, y:y(m), width:barW, height:y0-y(m), fill:'#c0c0c0', stroke:'#111', 'stroke-width':3.5});
    
    
    const z = mk(root, 'text', {x:x(i)-4, y:3975, 'font-size':58, 'text-anchor':'middle', fill:'#2a2a2a'}, zincLabels[i]);
    
    
  });
  const ax = mk(root, 'path', {d:'M1694,2882 L1694,'+y0+' M1685,'+y0+' L3057,'+y0, fill:'none', stroke:'#050505', 'stroke-width':10});
  
  
  barYTicks.forEach((v,i) => {
    const t = mk(root, 'line', {x1:1694, x2:1710, y1:y(v), y2:y(v), stroke:'#111', 'stroke-width':5});
    
    
    if (barYLabels[i]) {
      const l = mk(root, 'text', {x:1620, y:y(v)+29, 'font-size':64, 'text-anchor':'middle', fill:'#2e2e2e'}, barYLabels[i]);
      
      
    }
  });
})();
</script>

<script>
(function staticBarAnnotations(){
  const root = document.getElementById('chart-bars');
  const ns = 'http://www.w3.org/2000/svg';
  const markup = [
    '<text transform="translate(1535,3300) rotate(-90)" font-size="76" text-anchor="middle" fill="#2e2e2e" textLength="172" lengthAdjust="spacingAndGlyphs">\u0394F/F</text>',
    '<line x1="2724" x2="2928" y1="2860" y2="2860" stroke="#111" stroke-width="3.5"/>',
    '<text x="2828" y="2842" font-size="78" text-anchor="middle" fill="#1a1a2a">*</text>',
    '<text x="1519" y="3991" font-size="68" font-weight="bold" fill="#111">Zinc</text>',
    '<text x="1533" y="4105" font-size="68" font-weight="bold" fill="#111">pH</text>',
    '<text x="1511" y="4245" font-size="66" font-weight="bold" fill="#111" textLength="158" lengthAdjust="spacingAndGlyphs">ASIC</text>',
    '<rect x="1796" y="4014" width="239" height="20" fill="#000"/>',
    '<rect x="2099" y="4014" width="239" height="20" fill="#000"/>',
    '<rect x="2401" y="4020" width="240" height="20" fill="#000"/>',
    '<rect x="2704" y="4020" width="240" height="20" fill="#000"/>',
    '<text x="1914" y="4108" font-size="58" text-anchor="middle" fill="#2a2a2a">7.4</text>',
    '<text x="2186" y="4108" font-size="58" text-anchor="middle" fill="#2a2a2a">4.0</text>',
    '<text x="2522" y="4108" font-size="58" text-anchor="middle" fill="#2a2a2a">7.4</text>',
    '<text x="2796" y="4108" font-size="58" text-anchor="middle" fill="#2a2a2a">4.0</text>',
    '<rect x="1796" y="4141" width="537" height="20" fill="#000"/>',
    '<rect x="2401" y="4141" width="533" height="20" fill="#000"/>',
    '<text x="2082" y="4248" font-size="56" text-anchor="middle" fill="#2a2a2a">1a</text>',
    '<text x="2690" y="4248" font-size="56" text-anchor="middle" fill="#2a2a2a">2a</text>'
  ].join('');
  const holder = document.createElementNS(ns, 'g');
  
  
  holder.innerHTML = markup;
  root.appendChild(holder);
})();
</script>
</body>
</html>
